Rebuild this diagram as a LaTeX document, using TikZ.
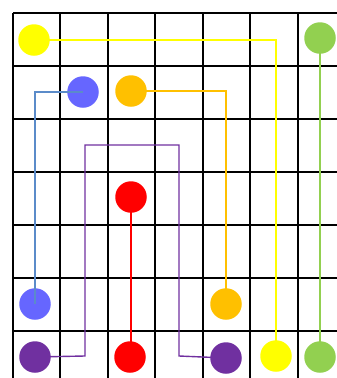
\documentclass[tikz,border=0pt]{standalone}
\usepackage{tikz}

\definecolor{flowyellow}{HTML}{FFFF00}
\definecolor{flowgreen}{HTML}{92D050}
\definecolor{flowblue}{HTML}{6666FF}
\definecolor{flowblueline}{HTML}{5B8BC9}
\definecolor{floworange}{HTML}{FFC000}
\definecolor{flowred}{HTML}{FF0000}
\definecolor{flowpurple}{HTML}{7030A0}

\begin{document}
\begin{tikzpicture}[
    x=1pt, y=-1pt,
    dot/.style={circle, draw=none, minimum size=31.5pt, inner sep=0pt},
    wire/.style={line width=1.4pt},
    gridline/.style={line width=2pt, black}
]
    \useasboundingbox (0,0) rectangle (337,378);
    \clip (0,0) rectangle (337,378);

    % board
    \foreach \x in {13,60,108,155,203,250,298}
        \draw [gridline] (\x,13) -- (\x,378);
    \foreach \y in {13,66,119,172,225,278,331}
        \draw [gridline] (13,\y) -- (337,\y);

    % end points
    \node [dot, fill=flowyellow] (yellowA) at (34,40) {};
    \node [dot, fill=flowyellow] (yellowB) at (276,356) {};
    \node [dot, fill=flowgreen] (greenA) at (320,38) {};
    \node [dot, fill=flowgreen] (greenB) at (320,357) {};
    \node [dot, fill=flowblue] (blueA) at (83,92) {};
    \node [dot, fill=flowblue] (blueB) at (35,304) {};
    \node [dot, fill=floworange] (orangeA) at (131,91) {};
    \node [dot, fill=floworange] (orangeB) at (226,304) {};
    \node [dot, fill=flowred] (redA) at (131,197) {};
    \node [dot, fill=flowred] (redB) at (130,357) {};
    \node [dot, fill=flowpurple] (purpleA) at (35,357) {};
    \node [dot, fill=flowpurple] (purpleB) at (226,358) {};

    % bends of the purple path
    \coordinate (purpleC1) at (85,356);
    \coordinate (purpleC2) at (85,145);
    \coordinate (purpleC3) at (179,145);
    \coordinate (purpleC4) at (179,356);

    % paths
    \draw [wire, flowyellow] (yellowA.center) -| (yellowB.center);
    \draw [wire, flowgreen] (greenA.center) -- (greenB.center);
    \draw [wire, flowblueline] (blueA.center) -| (blueB.center);
    \draw [wire, floworange] (orangeA.center) -| (orangeB.center);
    \draw [wire, flowred] (redA.center) -- (redA.center |- redB.center);
    \draw [wire, flowpurple] (purpleA.center) -- (purpleC1) -- (purpleC2)
        -- (purpleC3) -- (purpleC4) -- (purpleB.center);

\end{tikzpicture}
\end{document}
